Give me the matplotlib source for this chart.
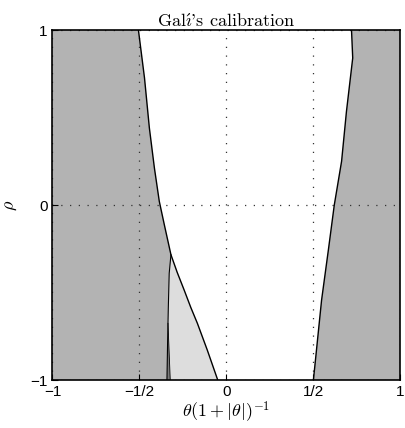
import numpy as np
import matplotlib.pyplot as plt

plt.rcParams['mathtext.fontset'] = 'cm'
plt.rcParams['font.family'] = ['Liberation Sans', 'DejaVu Sans']

# left boundary of the white region, top to bottom
left_x = [-0.506, -0.471, -0.443, -0.414, -0.386, -0.357, -0.319,
          -0.283, -0.243, -0.205, -0.167, -0.110, -0.050]
left_y = [1.0, 0.726, 0.440, 0.211, 0.021, -0.113, -0.284,
          -0.385, -0.486, -0.585, -0.676, -0.829, -1.0]

# right boundary of the white region, top to bottom
right_x = [0.719, 0.726, 0.690, 0.662, 0.620, 0.586, 0.547, 0.500]
right_y = [1.0, 0.840, 0.535, 0.250, 0.0, -0.257, -0.543, -1.0]

# left edge of the light grey wedge, from the kink down
wedge_x = [-0.319, -0.329, -0.334, -0.338, -0.342]
wedge_y = [-0.284, -0.390, -0.581, -0.771, -1.0]

# small dark sliver at the bottom of the wedge
sliver_x = [-0.336, -0.342, -0.323]
sliver_y = [-0.676, -1.0, -1.0]

xticks = [-1, -0.5, 0, 0.5, 1]
xticklabels = ['\u22121', '\u22121/2', '0', '1/2', '1']
yticks = [-1, 0, 1]
yticklabels = ['\u22121', '0', '1']

grey = '#b3b3b3'
light = '#dddddd'

fig = plt.figure(figsize=(4.05, 4.28), dpi=100)
ax = fig.add_axes([0.1296, 0.1121, 0.859, 0.8178])
ax.set_facecolor(grey)

# white admissible region
wx = left_x + right_x[::-1]
wy = left_y + right_y[::-1]
ax.fill(wx, wy, color='white', lw=0, zorder=1)

# light grey wedge
kink = 6
lx = left_x[kink:] + wedge_x[::-1]
ly = left_y[kink:] + wedge_y[::-1]
ax.fill(lx, ly, color=light, lw=0, zorder=2)
ax.fill(sliver_x, sliver_y, color='#7a7a7a', lw=0, zorder=2)

ax.plot(left_x, left_y, color='k', lw=1.0, zorder=3)
ax.plot(right_x, right_y, color='k', lw=1.0, zorder=3)
ax.plot(wedge_x, wedge_y, color='k', lw=0.8, zorder=3)
ax.plot(sliver_x[::2], sliver_y[::2], color='k', lw=0.6, zorder=3)

ax.set_xlim(-1, 1)
ax.set_ylim(-1, 1)
ax.set_xticks(xticks)
ax.set_xticklabels(xticklabels, fontsize=11)
ax.set_yticks(yticks)
ax.set_yticklabels(yticklabels, fontsize=11)
ax.tick_params(direction='in', length=4, width=0.8)
ax.set_axisbelow(False)
ax.grid(True, linestyle=(0, (1, 6)), color='#333333', linewidth=0.9, zorder=4)
for s in ax.spines.values():
    s.set_linewidth(1.2)
    s.set_zorder(5)

ax.set_xlabel(r'$\theta(1+|\theta|)^{-1}$', fontsize=13, labelpad=1)
ax.set_ylabel(r'$\rho$', fontsize=13, labelpad=8)
ax.set_title(r"Gal$\mathrm{\acute{\imath}}$'s calibration", fontsize=13, family='cmr10', pad=2)

plt.savefig('out.png', dpi=100)
